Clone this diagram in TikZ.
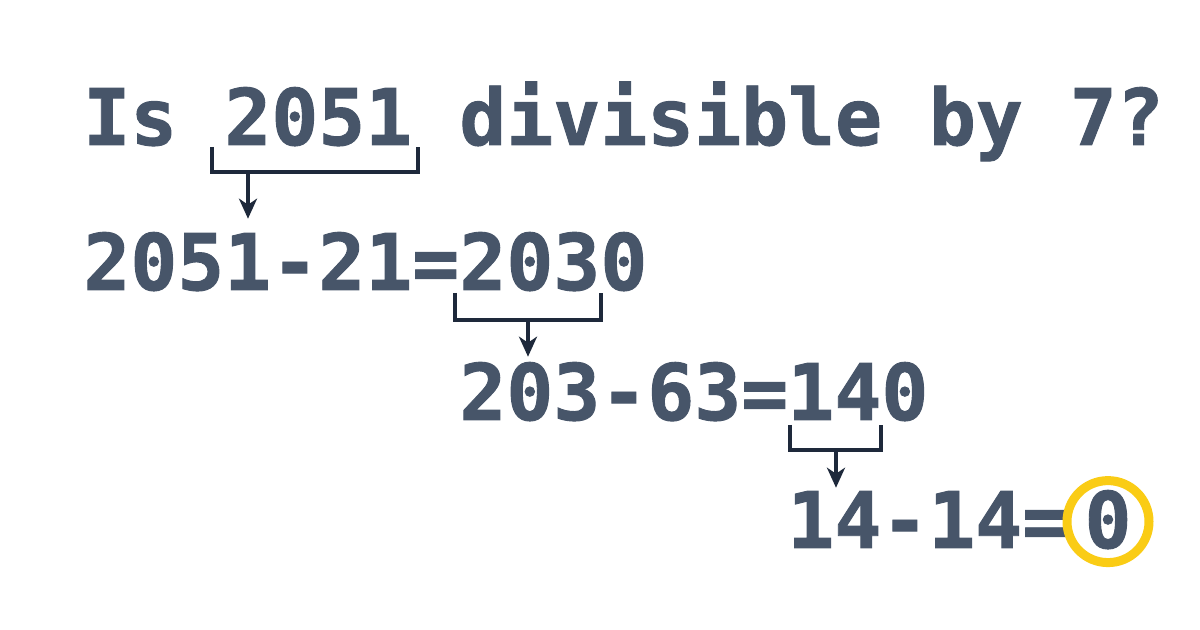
\documentclass[tikz,border=0pt]{standalone}
\usepackage{fontspec}
\setmonofont[BoldFeatures={FakeBold=1.2}]{DejaVu Sans Mono}
\usepackage{tikz}
\usetikzlibrary{arrows.meta}
\definecolor{ink}{RGB}{71,85,105}
\definecolor{brace}{RGB}{30,41,59}
\definecolor{gold}{RGB}{250,204,21}

\begin{document}
\begin{tikzpicture}[x=0.5pt,y=-0.5pt,>={Stealth[length=10pt,width=9pt,inset=3pt]},
                    num/.style={inner sep=0pt,anchor=base west,text=ink,
                      font=\ttfamily\bfseries\fontsize{39}{39}\selectfont},
                    brk/.style={draw=brace,line width=2pt},
                    ring/.style={circle,draw=gold,line width=4.5pt,minimum size=41pt,inner sep=0pt}]

  \useasboundingbox[fill=white] (0,0) rectangle (1200,630);

  % question
  \node[num] (is)   at (83,145)  {Is};
  \node[num] (q)    at (224,145) {2051};
  \node[num] (rest) at (459,145) {divisible by 7?};

  % first step
  \node[num] (l2a) at (83,290)  {2051};
  \node[num] (l2b) at (271,290) {-21=};
  \node[num] (l2c) at (459,290) {203};
  \node[num] (l2d) at (600,290) {0};

  % second step
  \node[num] (l3a) at (459,420) {203};
  \node[num] (l3b) at (600,420) {-63=};
  \node[num] (l3c) at (787,420) {14};
  \node[num] (l3d) at (881,420) {0};

  % last step
  \node[num] (l4a) at (787,548) {14};
  \node[num] (l4b) at (881,548) {-14=};
  \node[num,anchor=base] (l4c) at (1108,548) {0};
  \node[ring] (ok) at ([yshift=-1pt]l4c.center) {};

  % brackets
  \draw[brk] ([shift={(-12,2)}]q.base west) -- ++(0,25) -| ([shift={(5,2)}]q.base east);
  \draw[brk] ([shift={(-4,3)}]l2c.base west) -- ++(0,27) -| ([shift={(0,3)}]l2c.base east);
  \draw[brk] ([shift={(3,5)}]l3c.base west) -- ++(0,25) -| ([shift={(-1,5)}]l3c.base east);

  \coordinate (m1) at ([shift={(24,27)}]q.base west);
  \coordinate (m2) at ([shift={(69,30)}]l2c.base west);
  \coordinate (m3) at ([shift={(49,30)}]l3c.base west);

  \draw[brk,->,shorten >=6.5pt] (m1) -- (m1 |- l2a.north);
  \draw[brk,->,shorten >=2.5pt] (m2) -- (m2 |- l3a.north);
  \draw[brk,->,shorten >=1.5pt] (m3) -- (m3 |- l4a.north);
\end{tikzpicture}
\end{document}
